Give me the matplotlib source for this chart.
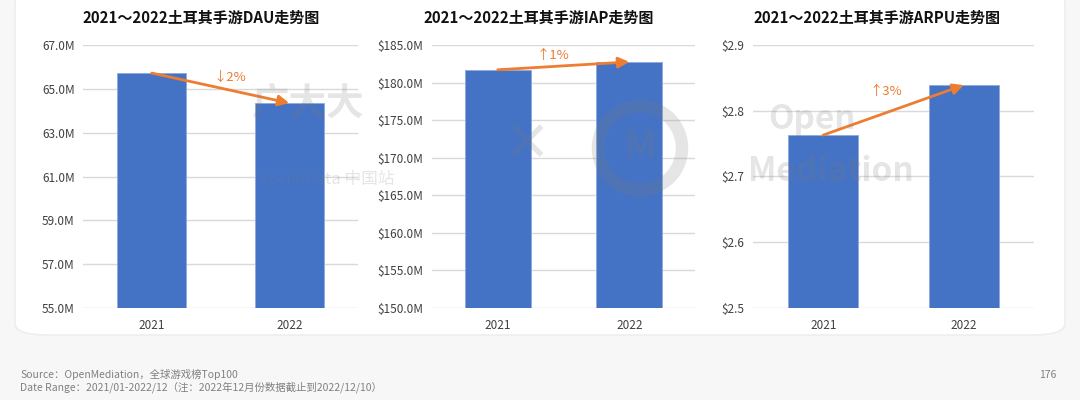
import matplotlib.pyplot as plt
from matplotlib.patches import FancyBboxPatch, Ellipse

plt.rcParams['font.family'] = ['Noto Sans CJK SC', 'DejaVu Sans']

years = ['2021', '2022']
dau = [65.72, 64.35]          # millions
iap = [181.7, 182.75]         # $ millions
arpu = [2.763, 2.839]         # $

titles = ['2021～2022土耳其手游DAU走势图',
          '2021～2022土耳其手游IAP走势图',
          '2021～2022土耳其手游ARPU走势图']
changes = ['↓2%', '↑1%', '↑3%']

dau_ticks = [55, 57, 59, 61, 63, 65, 67]
iap_ticks = [150, 155, 160, 165, 170, 175, 180, 185]
arpu_ticks = [2.5, 2.6, 2.7, 2.8, 2.9]

blue = '#4472C4'
orange = '#ED7D31'
W, H = 1080, 400

fig = plt.figure(figsize=(10.8, 4), dpi=100)
fig.patch.set_facecolor('#f7f7f7')

# white card behind the charts
card = FancyBboxPatch((15 / W, 1 - 335 / H), 1050 / W, 345 / H,
                      boxstyle='round,pad=0,rounding_size=0.03',
                      transform=fig.transFigure, facecolor='white',
                      edgecolor='#ececec', linewidth=1, zorder=-5)
fig.patches.append(card)

# x0, x1, values, ticks, formatter, change label pos, title centre
panels = [
    (83, 358, dau, dau_ticks, lambda v: f'{v:.1f}M', (230, 77), 201),
    (432, 695, iap, iap_ticks, lambda v: f'${v:.1f}M', (553, 55), 539),
    (753, 1034, arpu, arpu_ticks, lambda v: f'${v:.1f}', (886, 92), 877),
]

for i, (x0, x1, vals, ticks, fmt, lab, tx) in enumerate(panels):
    ax = fig.add_axes([x0 / W, 1 - 308 / H, (x1 - x0) / W, (308 - 45) / H])
    ax.patch.set_alpha(0)
    ax.bar([0, 1], vals, width=0.5, color=blue, edgecolor='#8fa9dc',
           linewidth=0.6, zorder=2)
    ax.set_xlim(-0.5, 1.5)
    ax.set_ylim(ticks[0], ticks[-1])
    ax.set_yticks(ticks)
    ax.set_yticklabels([fmt(t) for t in ticks])
    ax.set_xticks([0, 1])
    ax.set_xticklabels(years)
    ax.grid(axis='y', color='#d9d9d9', linewidth=1, zorder=0)
    for s in ax.spines.values():
        s.set_visible(False)
    ax.tick_params(length=0, labelsize=8.5, colors='#404040', pad=6)
    ax.tick_params(axis='x', pad=8)
    fig.text(tx / W, 1 - 18 / H, titles[i], fontsize=10.8, fontweight='bold',
             color='#111111', ha='center', va='center')
    # trend arrow from top of first bar to top of second
    ax.annotate('', xy=(1, vals[1]), xytext=(0, vals[0]),
                arrowprops=dict(arrowstyle='-|>', color=orange, lw=2,
                                mutation_scale=16, shrinkA=0, shrinkB=0),
                zorder=3)
    fig.text(lab[0] / W, 1 - lab[1] / H, changes[i], fontsize=9.5,
             color=orange, ha='center', va='center')

# faint watermark drawn over the bars
wm = dict(color='#808080', alpha=0.2, zorder=10)
fig.text(252 / W, 1 - 103 / H, '广大大', fontsize=27, fontweight='bold',
         ha='left', va='center', **wm)
fig.text(258 / W, 1 - 180 / H, 'SocialPeta 中国站', fontsize=12,
         ha='left', va='center', **wm)
fig.text(527 / W, 1 - 146 / H, '✕', fontsize=40, fontweight='bold',
         ha='center', va='center', family=['DejaVu Sans'], **wm)
ring = Ellipse((640 / W, 1 - 148 / H), 84 / W, 84 / H,
               transform=fig.transFigure, fill=False, linewidth=9,
               edgecolor='#808080', alpha=0.2, zorder=10)
fig.patches.append(ring)
fig.text(640 / W, 1 - 146 / H, 'M', fontsize=28, fontweight='bold',
         ha='center', va='center', **wm)
fig.text(768 / W, 1 - 120 / H, 'Open', fontsize=24, fontweight='bold',
         ha='left', va='center', **wm)
fig.text(748 / W, 1 - 172 / H, 'Mediation', fontsize=24, fontweight='bold',
         fontstyle='italic', ha='left', va='center', **wm)

fig.text(20 / W, 1 - 374 / H, 'Source：OpenMediation，全球游戏榜Top100',
         fontsize=7.5, color='#808080', ha='left', va='center')
fig.text(20 / W, 1 - 387 / H,
         'Date Range：2021/01-2022/12（注：2022年12月份数据截止到2022/12/10）',
         fontsize=7.5, color='#808080', ha='left', va='center')
fig.text(1048 / W, 1 - 375 / H, '176', fontsize=7.5, color='#808080',
         ha='center', va='center')

fig.savefig('out.png', dpi=100, facecolor=fig.get_facecolor())
